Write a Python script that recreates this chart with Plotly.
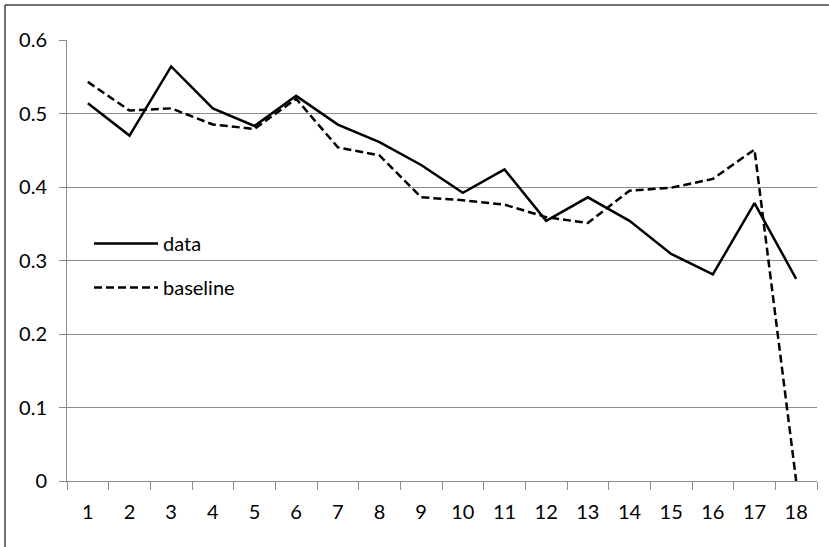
import plotly.graph_objects as go

categories = [str(i) for i in range(1, 19)]
data_values = [0.514, 0.470, 0.564, 0.507, 0.483, 0.524, 0.485, 0.461, 0.430,
               0.392, 0.424, 0.354, 0.386, 0.354, 0.309, 0.281, 0.378, 0.275]
baseline_values = [0.543, 0.504, 0.507, 0.485, 0.479, 0.520, 0.454, 0.443, 0.386,
                   0.382, 0.376, 0.359, 0.351, 0.395, 0.399, 0.411, 0.451, 0.0]
y_ticks = [0, 0.1, 0.2, 0.3, 0.4, 0.5, 0.6]
y_labels = ["0", "0.1", "0.2", "0.3", "0.4", "0.5", "0.6"]

W, H = 829, 547
L, R, T, B = 67, 12, 40, 66
pw = W - L - R
ph = H - T - B

FONT = "Lato"
FS = 20
fig = go.Figure()
fig.add_trace(go.Scatter(x=categories, y=data_values, mode="lines", name="data",
                         line=dict(color="black", width=2.5), legendgroup="a"))
fig.add_trace(go.Scatter(x=categories, y=baseline_values, mode="lines", name="baseline",
                         line=dict(color="black", width=2.5, dash="8px,4px"), legendgroup="b"))

grid = "#8c8c8c"
fig.update_layout(
    width=W, height=H,
    margin=dict(l=L, r=R, t=T, b=B),
    paper_bgcolor="white", plot_bgcolor="white",
    font=dict(family=FONT, size=FS, color="black"),
    showlegend=True,
    legend=dict(x=(89 - L) / pw, y=1 - (224 - T) / ph, xanchor="left", yanchor="top",
                bgcolor="rgba(0,0,0,0)", font=dict(size=FS, family=FONT),
                tracegroupgap=15, itemwidth=64),
    xaxis=dict(type="category", tickson="boundaries", ticks="outside", ticklen=8,
               tickcolor=grid, showline=True, linecolor=grid, linewidth=1,
               showgrid=False, zeroline=False, range=[-0.5, 17.5],
               tickfont=dict(size=FS, family=FONT, color="black"), ticklabelstandoff=13),
    yaxis=dict(range=[0, 0.6], tickvals=y_ticks, ticktext=y_labels, ticks="outside",
               ticklen=7, tickcolor=grid, showline=True, linecolor=grid, linewidth=1,
               showgrid=True, gridcolor=grid, gridwidth=1, zeroline=False,
               tickfont=dict(size=FS, family=FONT, color="black"), ticklabelstandoff=8),
)

# outer chart frame (top and left edges)
fig.add_shape(type="line", xref="paper", yref="paper",
              x0=(5 - L) / pw, x1=(W - L) / pw, y0=1 + (T - 5) / ph, y1=1 + (T - 5) / ph,
              line=dict(color="#444444", width=1.5))
fig.add_shape(type="line", xref="paper", yref="paper",
              x0=(5 - L) / pw, x1=(5 - L) / pw, y0=1 + (T - 5) / ph, y1=-(H - T - ph) / ph,
              line=dict(color="#444444", width=1.5))

fig.write_html("out.html", config={"displayModeBar": False},
               post_script="document.body.style.margin='0';document.body.style.overflow='hidden';")
